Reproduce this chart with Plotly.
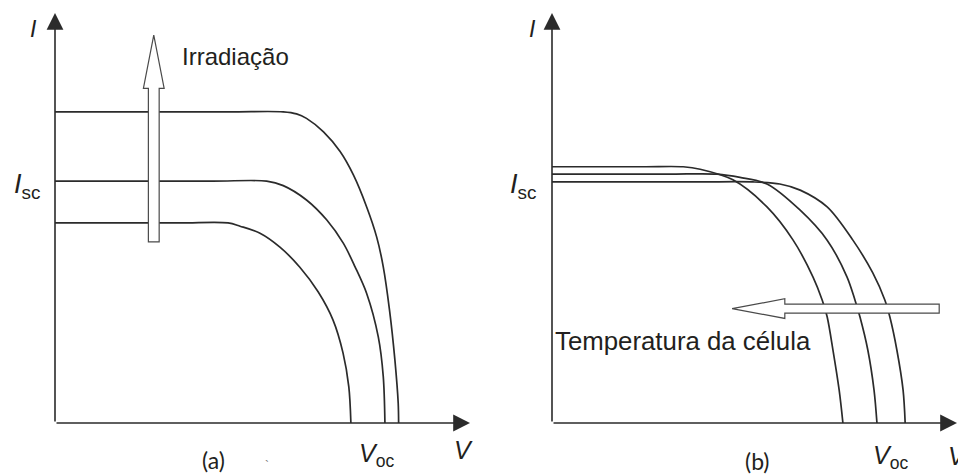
import plotly.graph_objects as go

# ---- (a) I-V curves for three irradiance levels (arbitrary units) ----
v_a_low = [0, 30.0, 41.7, 44.6, 49.4, 54.2, 59.0, 63.4, 67.0, 69.4, 70.8, 71.3]
i_a_low = [48.8, 48.8, 48.8, 48.0, 46.3, 42.9, 38.0, 32.0, 25.1, 17.1, 8.8, 0]

v_a_mid = [0, 38.0, 51.0, 55.0, 60.6, 65.5, 69.5, 72.3, 75.1, 77.9, 79.1, 79.5]
i_a_mid = [59.0, 59.0, 59.0, 57.9, 54.4, 49.5, 43.8, 38.1, 31.6, 21.0, 11.3, 0]

v_a_high = [0, 42.0, 55.0, 58.2, 60.6, 64.7, 68.7, 71.9, 75.1, 77.5, 79.1, 80.6, 81.9, 82.7, 82.8]
i_a_high = [75.9, 75.9, 75.9, 75.4, 74.3, 71.0, 66.2, 60.5, 52.7, 45.4, 38.1, 27.6, 15.4, 4.8, 0]

# ---- (b) I-V curves for three cell temperatures (arbitrary units) ----
v_b_hot = [0, 22.0, 31.6, 35.7, 43.6, 51.8, 58.1, 62.9, 65.1, 66.3, 67.7, 69.2, 70.1]
i_b_hot = [62.5, 62.5, 62.5, 61.9, 59.3, 52.7, 44.6, 35.6, 30.0, 25.9, 17.8, 8.0, 0]

v_b_mid = [0, 28.0, 39.8, 45.3, 51.8, 59.8, 66.3, 71.1, 73.0, 74.2, 76.1, 77.6, 78.3]
i_b_mid = [60.7, 60.7, 60.7, 59.9, 58.3, 51.9, 44.6, 35.6, 30.0, 25.9, 17.8, 8.0, 0]

v_b_cold = [0, 35.0, 48.4, 54.9, 59.8, 66.3, 72.5, 77.3, 80.2, 81.4, 83.1, 84.6, 85.1]
i_b_cold = [58.8, 58.8, 58.8, 58.3, 56.8, 52.7, 44.6, 36.6, 30.0, 25.9, 17.8, 8.0, 0]

LINE = "#2b2b2b"
TEXT = "#231f20"
SANS = "Arial, 'Liberation Sans', sans-serif"
CAPTION = "Lato, 'Open Sans', sans-serif"

fig = go.Figure()

curve_style = dict(color=LINE, width=1.7, shape="spline", smoothing=0.9)

for v, i in [(v_a_low, i_a_low), (v_a_mid, i_a_mid), (v_a_high, i_a_high)]:
    fig.add_trace(go.Scatter(x=v, y=i, mode="lines", xaxis="x", yaxis="y",
                             line=curve_style, hoverinfo="skip", showlegend=False))

for v, i in [(v_b_hot, i_b_hot), (v_b_mid, i_b_mid), (v_b_cold, i_b_cold)]:
    fig.add_trace(go.Scatter(x=v, y=i, mode="lines", xaxis="x2", yaxis="y2",
                             line=curve_style, hoverinfo="skip", showlegend=False))

X2_MAX = 406 / 4.15

hidden = dict(visible=False, fixedrange=True)
fig.update_layout(
    width=958, height=474,
    margin=dict(l=0, r=0, t=0, b=0),
    paper_bgcolor="white", plot_bgcolor="white",
    xaxis=dict(domain=[55 / 958, 470 / 958], range=[0, 100], anchor="y", **hidden),
    yaxis=dict(domain=[51 / 474, 461 / 474], range=[0, 100], anchor="x", **hidden),
    xaxis2=dict(domain=[552 / 958, 1.0], range=[0, X2_MAX], anchor="y2", **hidden),
    yaxis2=dict(domain=[51 / 474, 461 / 474], range=[0, 100], anchor="x2", **hidden),
)

ARROW = dict(text="", showarrow=True, arrowhead=2, arrowsize=2.1,
             arrowwidth=1.6, arrowcolor=LINE, standoff=0)

# Axis arrows: I (up) and V (right) for each panel
for xr, yr in [("x", "y"), ("x2", "y2")]:
    fig.add_annotation(x=0, y=100, ax=0, ay=0, xref=xr, yref=yr, axref=xr, ayref=yr, **ARROW)
fig.add_annotation(x=100, y=0, ax=0, ay=0, xref="x", yref="y", axref="x", ayref="y", **ARROW)
# right-hand V axis runs off the edge of the page
fig.add_annotation(x=968 / 958, y=0, xref="paper", yref="y2", ax=-416, ay=0,
                   axref="pixel", ayref="pixel", **ARROW)

# Hollow arrows (irradiance up, temperature left)
OUTLINE = dict(color="#4a4a4a", width=1.2)

def hollow_up(xc, half_shaft, half_head, y0, y_head, y_tip, xref, yref):
    path = (f"M{xc - half_shaft},{y0} L{xc - half_shaft},{y_head} L{xc - half_head},{y_head} "
            f"L{xc},{y_tip} L{xc + half_head},{y_head} L{xc + half_shaft},{y_head} "
            f"L{xc + half_shaft},{y0} Z")
    fig.add_shape(type="path", path=path, xref=xref, yref=yref, layer="above",
                  fillcolor="white", line=OUTLINE)

def hollow_left(yc, half_shaft, half_head, x0, x_head, x_tip, xref, yref):
    path = (f"M{x0},{yc - half_shaft} L{x_head},{yc - half_shaft} L{x_head},{yc - half_head} "
            f"L{x_tip},{yc} L{x_head},{yc + half_head} L{x_head},{yc + half_shaft} "
            f"L{x0},{yc + half_shaft} Z")
    fig.add_shape(type="path", path=path, xref=xref, yref=yref, layer="above",
                  fillcolor="white", line=OUTLINE)

hollow_up(23.8, 1.3, 2.5, 44.2, 81.6, 94.6, "x", "y")
hollow_left(27.9, 1.1, 2.4, 93.3, 56.1, 43.4, "x2", "y2")

def label(text, x, y, size, xanchor="center", yanchor="middle", family=SANS, color=TEXT):
    fig.add_annotation(x=x / 958, y=1 - y / 474, xref="paper", yref="paper", text=text,
                       showarrow=False, xanchor=xanchor, yanchor=yanchor,
                       font=dict(family=family, size=size, color=color))

# Panel (a)
label("<i>I</i>", 33, 29, 23)
label("<i>I</i><sub>sc</sub>", 42, 186, 27, xanchor="right")
label("Irradiação", 180, 56, 24, xanchor="left")
label("<i>V</i><sub>oc</sub>", 357, 455, 25, xanchor="left")
label("<i>V</i>", 463, 450, 25)
label("(a)", 213, 460, 23, family=CAPTION)
label("`", 267, 466, 12, color="#777777")

# Panel (b)
label("<i>I</i>", 532, 29, 23)
label("<i>I</i><sub>sc</sub>", 538, 186, 27, xanchor="right")
label("Temperatura da célula", 553, 341, 25.8, xanchor="left")
label("<i>V</i><sub>oc</sub>", 871, 457, 25, xanchor="left")
label("<i>V</i>", 946, 456, 25, xanchor="left")
label("(b)", 757, 461, 23, family=CAPTION)

fig.write_html("out.html")
